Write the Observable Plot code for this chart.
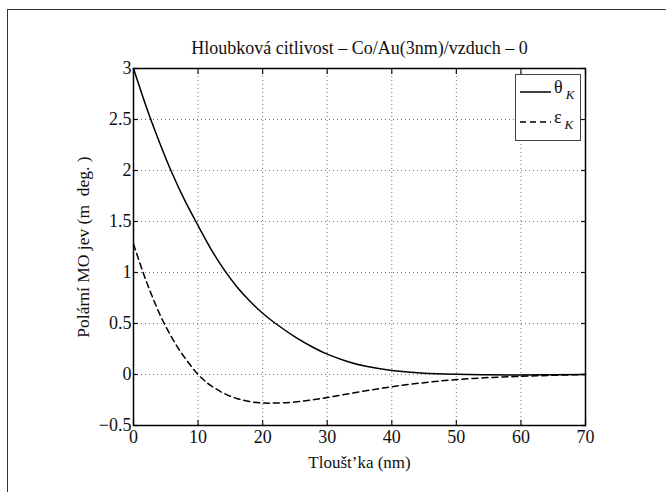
<!DOCTYPE html>
<html>
<head>
<meta charset="utf-8">
<script src="https://cdn.jsdelivr.net/npm/d3@7"></script>
<script src="https://cdn.jsdelivr.net/npm/@observablehq/plot@0.6"></script>
<style>
  html, body { margin: 0; padding: 0; background: #fff; }
  #wrap { position: relative; width: 666px; height: 492px; overflow: hidden; font-family: "Liberation Serif", serif; }
  #outer { position: absolute; left: 7px; top: 9px; width: 700px; height: 600px; border-left: 1.5px solid #333; border-top: 1.5px solid #333; }
  #legend { position: absolute; left: 515px; top: 74px; }
  #chart svg text { font-family: "Liberation Serif", serif !important; }
  #chart svg g[aria-label$="tick label"], #chart svg g[aria-label$="tick label"] text { font-size: 18px !important; }
</style>
</head>
<body>
<div id="wrap">
  <div id="outer"></div>
  <div id="chart"></div>
  <svg id="legend" width="67" height="68"></svg>
</div>
<script>
const title = "Hloubková citlivost – Co/Au(3nm)/vzduch – 0";
const xLabel = "Tloušt’ka (nm)";
const yLabel = "Polární MO jev (m  deg. )";
const seriesNames = ["θ", "ε"];
const seriesSub = "K";

const xTicks = [0, 10, 20, 30, 40, 50, 60, 70];
const yTicks = [-0.5, 0, 0.5, 1, 1.5, 2, 2.5, 3];

const thetaX = [0, 2, 4, 6, 8, 10, 12, 14, 16, 18, 20, 22, 25, 28, 30, 33, 36, 40, 45, 50, 55, 60, 65, 70];
const thetaY = [3.00, 2.62, 2.28, 1.97, 1.70, 1.46, 1.23, 1.03, 0.86, 0.72, 0.60, 0.50, 0.37, 0.26, 0.20, 0.13, 0.08, 0.04, 0.013, 0.003, -0.003, -0.004, -0.002, 0.0];

const epsX = [0, 1, 2, 3, 4, 5, 6, 7, 8, 9, 10, 11, 12, 14, 16, 18, 20, 22, 25, 28, 30, 35, 40, 45, 50, 55, 60, 65, 70];
const epsY = [1.28, 1.09, 0.91, 0.75, 0.60, 0.47, 0.355, 0.25, 0.16, 0.075, 0.0, -0.06, -0.11, -0.185, -0.235, -0.265, -0.28, -0.28, -0.27, -0.246, -0.226, -0.17, -0.12, -0.08, -0.05, -0.03, -0.018, -0.008, 0.0];

const theta = thetaX.map((x, i) => ({x, y: thetaY[i]}));
const eps = epsX.map((x, i) => ({x, y: epsY[i]}));

const fmt = d => String(d).replace("-", "−");
const font = "Liberation Serif, serif";

const chart = Plot.plot({
  width: 666,
  height: 492,
  marginLeft: 133,
  marginRight: 81,
  marginTop: 68,
  marginBottom: 67,
  style: {fontFamily: font, fontSize: "17px", color: "#111", background: "transparent"},
  x: {domain: [0, 70]},
  y: {domain: [-0.5, 3]},
  marks: [
    Plot.gridX(xTicks, {stroke: "#000", strokeOpacity: 0.55, strokeDasharray: "1,3"}),
    Plot.gridY(yTicks, {stroke: "#000", strokeOpacity: 0.55, strokeDasharray: "1,3"}),
    Plot.axisX(xTicks, {anchor: "bottom", tickSize: 0, tickPadding: 5, tickFormat: fmt, fontSize: 18, fontFamily: font, label: null}),
    Plot.axisY(yTicks, {anchor: "left", tickSize: 0, tickPadding: 2, tickFormat: fmt, fontSize: 18, fontFamily: font, label: null}),
    Plot.axisX(xTicks, {anchor: "bottom", tickSize: -5, tickFormat: () => "", label: null, strokeWidth: 1.2}),
    Plot.axisX(xTicks, {anchor: "top", tickSize: -5, tickFormat: () => "", label: null, strokeWidth: 1.2}),
    Plot.axisY(yTicks, {anchor: "left", tickSize: -5, tickFormat: () => "", label: null, strokeWidth: 1.2}),
    Plot.axisY(yTicks, {anchor: "right", tickSize: -5, tickFormat: () => "", label: null, strokeWidth: 1.2}),
    Plot.line(theta, {x: "x", y: "y", curve: "natural", stroke: "#000", strokeWidth: 1.5}),
    Plot.line(eps, {x: "x", y: "y", curve: "natural", stroke: "#000", strokeWidth: 1.5, strokeDasharray: "6,4"}),
    Plot.frame({stroke: "#000", strokeWidth: 1.5}),
    Plot.text([title], {frameAnchor: "top", dy: -15, lineAnchor: "bottom", fontSize: 18, fontFamily: font, fill: "#111"}),
    Plot.text([xLabel], {frameAnchor: "bottom", dy: 37, lineAnchor: "middle", fontSize: 17, fontFamily: font, fill: "#111"}),
    Plot.text([yLabel], {frameAnchor: "left", dx: -50, rotate: -90, textAnchor: "middle", lineAnchor: "middle", fontSize: 17.5, fontFamily: font, fill: "#111"})
  ]
});
document.getElementById("chart").appendChild(chart);

// legend
const lg = d3.select("#legend");
lg.append("rect").attr("x", 0.5).attr("y", 0.5).attr("width", 65).attr("height", 66)
  .attr("fill", "#fff").attr("stroke", "#444").attr("stroke-width", 1);
const rows = [{y: 18, dash: null}, {y: 48, dash: "6,4"}];
rows.forEach((r, i) => {
  lg.append("line").attr("x1", 5).attr("x2", 36).attr("y1", r.y).attr("y2", r.y)
    .attr("stroke", "#000").attr("stroke-width", 1.5).attr("stroke-dasharray", r.dash);
  const t = lg.append("text").attr("x", 39).attr("y", r.y + 1).attr("font-family", font)
    .attr("font-size", 18).attr("fill", "#111");
  t.append("tspan").text(seriesNames[i]);
  t.append("tspan").attr("dx", 3).attr("dy", 6).attr("font-size", 13).attr("font-style", "italic").text(seriesSub);
});
</script>
</body>
</html>
